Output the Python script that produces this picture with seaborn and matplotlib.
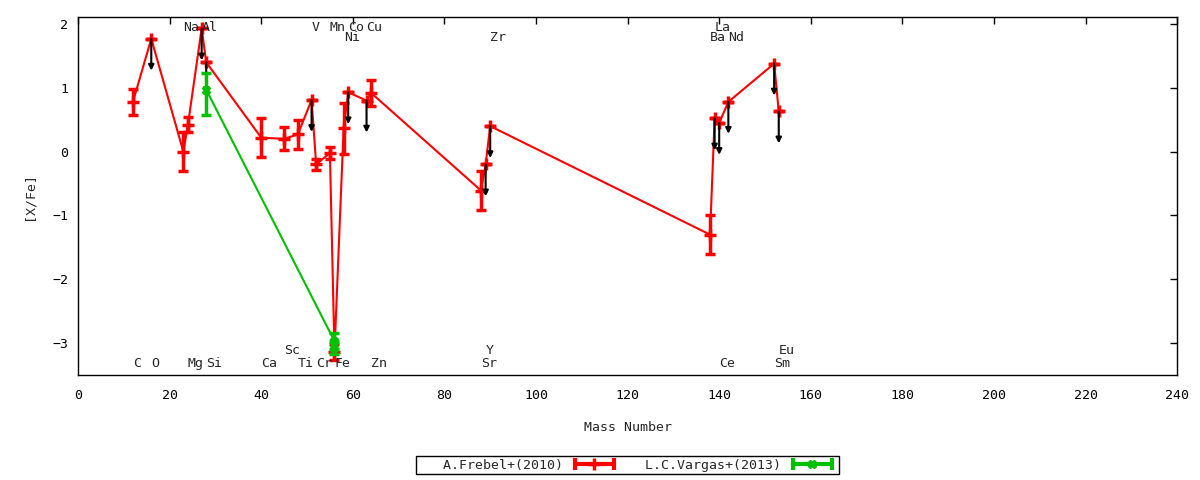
import numpy as np
import pandas as pd
import matplotlib
matplotlib.use('Agg')
import matplotlib.pyplot as plt
import seaborn as sns
from matplotlib.lines import Line2D
from matplotlib.legend_handler import HandlerLine2D, HandlerTuple

# Data: A.Frebel+(2010)
elements = ['C', 'O', 'Na', 'Mg', 'Al', 'Si', 'Ca', 'Sc', 'Ti', 'V', 'Cr', 'Mn', 'Fe',
            'Ni', 'Co', 'Cu', 'Zn', 'Sr', 'Y', 'Zr', 'Ba', 'La', 'Ce', 'Nd', 'Sm', 'Eu']
mass = [12, 16, 23, 24, 27, 28, 40, 45, 48, 51, 52, 55, 56,
        58, 59, 63, 64, 88, 89, 90, 138, 139, 140, 142, 152, 153]
xfe = [0.78, 1.77, 0.0, 0.42, 1.93, 1.40, 0.22, 0.20, 0.27, 0.81, -0.20, -0.02, -3.14,
       0.37, 0.93, 0.80, 0.92, -0.61, -0.20, 0.40, -1.30, 0.52, 0.45, 0.78, 1.38, 0.63]
err = [0.20, 0.0, 0.30, 0.12, 0.0, 0.0, 0.30, 0.18, 0.23, 0.0, 0.08, 0.10, 0.12,
       0.40, 0.0, 0.0, 0.20, 0.30, 0.0, 0.0, 0.30, 0.0, 0.0, 0.0, 0.0, 0.0]
upper_limit = [0, 1, 0, 0, 1, 1, 0, 0, 0, 1, 0, 0, 0,
               0, 1, 1, 0, 0, 1, 1, 0, 1, 1, 1, 1, 1]

# Data: L.C.Vargas+(2013)
vargas_mass = [28, 56, 56]
vargas_xfe = [0.97, -2.97, -3.07]
vargas_err_lo = [0.39, 0.13, 0.10]
vargas_err_hi = [0.26, 0.13, 0.10]

# Element labels (left-aligned at mass number), row: 1/2 = top rows, -1/-2 = bottom rows
label_names = ['Na', 'Al', 'V', 'Mn', 'Co', 'Cu', 'La',
               'Ni', 'Zr', 'Ba', 'Nd',
               'Sc', 'Y', 'Eu',
               'C', 'O', 'Mg', 'Si', 'Ca', 'Ti', 'Cr', 'Fe', 'Zn', 'Sr', 'Ce', 'Sm']
label_mass = [23, 27, 51, 55, 59, 63, 139,
              58, 90, 138, 142,
              45, 89, 153,
              12, 16, 24, 28, 40, 48, 52, 56, 64, 88, 140, 152]
label_row = [1, 1, 1, 1, 1, 1, 1,
             2, 2, 2, 2,
             -1, -1, -1,
             -2, -2, -2, -2, -2, -2, -2, -2, -2, -2, -2, -2]

frebel = pd.DataFrame({'mass': mass, 'xfe': xfe, 'err': err, 'ul': upper_limit})
vargas = pd.DataFrame({'mass': vargas_mass, 'xfe': vargas_xfe})

sns.set_style('white')
plt.rcParams['font.family'] = ['DejaVu Sans Mono']
plt.rcParams['font.size'] = 9.5

RED = '#ff0000'
GREEN = '#00c000'

fig = plt.figure(figsize=(12, 4.8), dpi=100)
ax = fig.add_axes([0.065, 0.21875, 0.916, 0.74585])

# Frebel: line + markers
sns.lineplot(data=frebel, x='mass', y='xfe', sort=False, estimator=None, ax=ax,
             color=RED, lw=1.5, marker='+', markersize=8, markeredgewidth=2.5,
             markeredgecolor=RED, zorder=2)
ax.errorbar(frebel['mass'], frebel['xfe'], yerr=frebel['err'], fmt='none',
            ecolor=RED, elinewidth=2.5, capsize=3.5, capthick=2.5, zorder=2)

# upper-limit arrows
for _, r in frebel[frebel['ul'] == 1].iterrows():
    ax.annotate('', xy=(r['mass'], r['xfe'] - 0.5), xytext=(r['mass'], r['xfe']),
                arrowprops=dict(arrowstyle='-|>', color='black', lw=1.5,
                                mutation_scale=8, shrinkA=0, shrinkB=0), zorder=3)

# Vargas
sns.lineplot(data=vargas, x='mass', y='xfe', sort=False, estimator=None, ax=ax,
             color=GREEN, lw=1.5, marker='X', markersize=6, markeredgewidth=1,
             markeredgecolor=GREEN, zorder=4)
ax.errorbar(vargas['mass'], vargas['xfe'], yerr=[vargas_err_lo, vargas_err_hi],
            fmt='none', ecolor=GREEN, elinewidth=2.5, capsize=3.5, capthick=2.5, zorder=4)

# element labels
row_y = {1: 1.95, 2: 1.79, -1: -3.11, -2: -3.32}
for name, m, row in zip(label_names, label_mass, label_row):
    ax.text(m, row_y[row], name, ha='left', va='center', fontsize=9.5, zorder=5)

ax.set_xlim(0, 240)
ax.set_ylim(-3.5, 2.11)
ax.set_xticks(np.arange(0, 241, 20))
ax.set_yticks(np.arange(-3, 3, 1))
ax.tick_params(direction='in', top=True, right=True, length=5, width=1,
               labelsize=9.5, colors='black')
ax.tick_params(axis='x', pad=10)
ax.tick_params(axis='y', pad=7)
for s in ax.spines.values():
    s.set_color('black')
    s.set_linewidth(1)
ax.set_xlabel('Mass Number', labelpad=14)
ax.set_ylabel('[X/Fe]', labelpad=12)

# legend like gnuplot: text then sample
def sample(color, marker, ms, mew):
    caps = Line2D([], [], color=color, lw=3, marker='|', markersize=8, markeredgewidth=3)
    mid = Line2D([], [], color=color, lw=0, marker=marker, markersize=ms, markeredgewidth=mew)
    return (caps, mid)

h_red = sample(RED, '+', 8, 2.5)
h_green = sample(GREEN, 'X', 6, 1)
hmap = {h_red[0]: HandlerLine2D(numpoints=2), h_red[1]: HandlerLine2D(numpoints=1),
        h_green[0]: HandlerLine2D(numpoints=2), h_green[1]: HandlerLine2D(numpoints=1),
        tuple: HandlerTuple(ndivide=1, pad=0)}
leg = fig.legend([h_red, h_green], ['   A.Frebel+(2010)', ' L.C.Vargas+(2013)'],
                 handler_map=hmap, loc='center', bbox_to_anchor=(0.5229, 0.031),
                 ncol=2, markerfirst=False, frameon=True, fancybox=False,
                 edgecolor='black', framealpha=1, handlelength=3.6,
                 handletextpad=0.6, columnspacing=1.4, borderpad=0.2,
                 borderaxespad=0, fontsize=9.5)
leg.get_frame().set_linewidth(1)

fig.savefig('out.png', dpi=100)
